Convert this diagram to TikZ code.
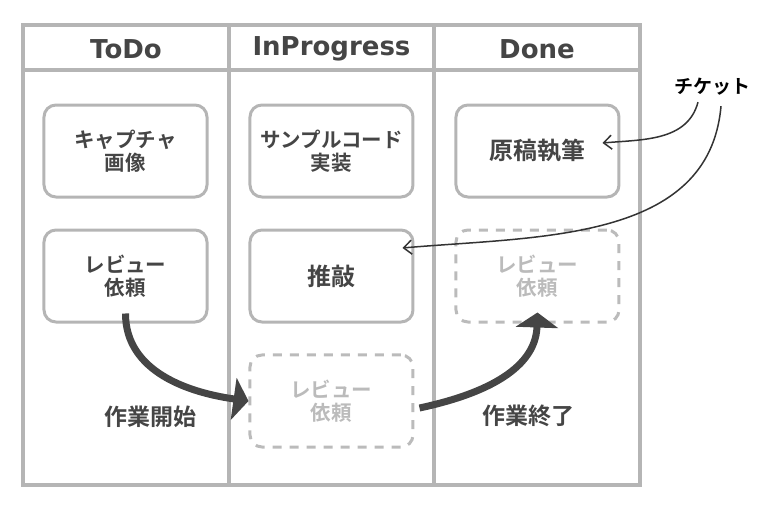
\documentclass[tikz,border=0pt]{standalone}
\usepackage{fontspec}
\setmainfont{DejaVu Sans}
\newfontfamily\jpfont{Noto Sans CJK JP Bold}
\usepackage{tikz}
\usetikzlibrary{
  matrix,
  positioning,
  arrows.meta
}
\definecolor{framegray}{HTML}{B5B5B5}
\definecolor{inkgray}{HTML}{454545}
\definecolor{ghostgray}{HTML}{BBBBBB}

\begin{document}
\begin{tikzpicture}[
      x=1pt,y=1pt,
      card/.style={
         rectangle,
         rounded corners=12pt,
         minimum width=163pt,
         minimum height=92pt,
         line width=3pt,
         draw=framegray,
         text=inkgray,
         align=center,
         font=\jpfont\fontsize{20.5}{23}\selectfont
      },
      ghost card/.style={
         card,
         dash pattern=on 9pt off 8pt,
         draw=ghostgray,
         text=ghostgray
      },
      big/.style={font=\jpfont\fontsize{24}{28}\selectfont},
      heading/.style={text=inkgray, font=\bfseries\fontsize{26}{30}\selectfont},
      note/.style={text=inkgray, font=\jpfont\fontsize{23}{26}\selectfont},
      frame/.style={draw=framegray, line width=3.5pt},
      move/.style={line width=7pt, draw=inkgray, -{Triangle[length=15pt,width=42pt]}},
      tip/.style={line width=1.5pt, draw=black!80, -{Straight Barb[length=8pt,width=14pt]}}
    ]
    \useasboundingbox (0,0) rectangle (780,-513);
    % board
    \draw[frame] (23,-25) rectangle (640,-485);
    \draw[frame] (23,-70) -- (640,-70);
    \draw[frame] (229,-25) -- (229,-485);
    \draw[frame] (434,-25) -- (434,-485);
    \node (h1) [heading] at (126,-49) {ToDo};
    \node (h2) [heading] at (331.5,-49) {InProgress};
    \node (h3) [heading] at (537,-49) {Done};
    % tickets
    \matrix[column sep=40pt, row sep=30pt] at (331.5,-276) {
\node (n11) [card] {キャプチャ\\画像}; & \node (n12) [card] {サンプルコード\\実装}; & \node (n13) [card,big] {原稿執筆};\\
\node (n21) [card] {レビュー\\依頼}; & \node (n22) [card,big] {推敲}; & \node (n23) [ghost card] {レビュー\\依頼};\\
 & \node (n32) [ghost card] {レビュー\\依頼}; & \\
    };
    \node (start) [note] at (150,-417) {作業開始};
    \node (finish) [note] at (528,-416) {作業終了};
    \node (ticket) [text=black, font=\jpfont\fontsize{19}{23}\selectfont] at (712,-87) {チケット};
    % moves
    \draw[move] ([yshift=10pt]n21.south) to[out=-90,in=172] (n32.west);
    \draw[move] ([shift={(5pt,-7pt)}]n32.east) to[out=12,in=-92] ([yshift=11pt]n23.south);
    \draw[tip] ([xshift=-14pt,yshift=-3pt]ticket.south) to[out=-105,in=5] ([shift={(-18pt,8pt)}]n13.east);
    \draw[tip] ([xshift=9pt,yshift=-7pt]ticket.south) to[out=-95,in=5] ([shift={(-12pt,28pt)}]n22.east);
\end{tikzpicture}
\end{document}
